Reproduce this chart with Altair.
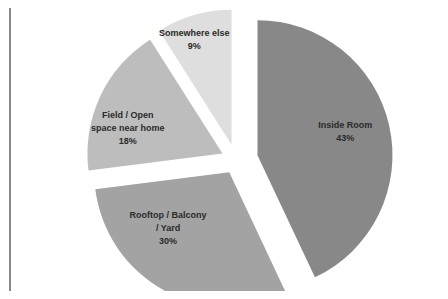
import math
import altair as alt
import pandas as pd

# ---- data ----
categories = ["Inside Room", "Rooftop / Balcony / Yard", "Field / Open space near home", "Somewhere else"]
values = [43, 30, 18, 9]
labels = ["Inside Room\n43%", "Rooftop / Balcony\n/ Yard\n30%", "Field / Open\nspace near home\n18%", "Somewhere else\n9%"]

# ---- style ----
colors = ["#888888", "#a3a3a3", "#bdbdbd", "#dedede"]
explode = {"Inside Room": 22, "Rooftop / Balcony / Yard": 14, "Field / Open space near home": 15, "Somewhere else": 16}
label_r = {"Inside Room": 91, "Rooftop / Balcony / Yard": 83, "Field / Open space near home": 98, "Somewhere else": 112}
label_da = {"Inside Room": -2.7, "Rooftop / Balcony / Yard": 18.7, "Field / Open space near home": -10, "Somewhere else": -3.3}
CX, CY, R = 228, 152, 135
W, H = 432, 283
LH = 13

df = pd.DataFrame({
    "idx": list(range(len(categories))),
    "category": categories,
    "value": values,
    "label": labels,
    "nlines": [len(s.split("\n")) for s in labels],
    "explode": [explode[c] for c in categories],
    "label_r": [label_r[c] for c in categories],
    "label_da": [label_da[c] for c in categories],
})

base = alt.Chart(df).transform_joinaggregate(
    total="sum(value)"
).transform_window(
    cum="sum(value)", sort=[alt.SortField("idx")], frame=[None, 0]
).transform_calculate(
    start_p="(datum.cum - datum.value) / datum.total * 100",
    end_p="datum.cum / datum.total * 100",
    mid="(datum.cum - datum.value / 2) / datum.total * 2 * PI",
).transform_calculate(
    ax=f"{CX} + datum.explode * sin(datum.mid)",
    ay=f"{CY} - datum.explode * cos(datum.mid)",
    la="datum.mid + datum.label_da * PI / 180",
).transform_calculate(
    lx="datum.ax + datum.label_r * sin(datum.la)",
    ly=f"datum.ay - datum.label_r * cos(datum.la) - (datum.nlines - 1) * {LH} / 2",
)

arcs = base.mark_arc(outerRadius=R).encode(
    theta=alt.Theta("start_p:Q", scale=alt.Scale(domain=[0, 100], range=[0, 2 * math.pi])),
    theta2="end_p:Q",
    x=alt.X("ax:Q", scale=None),
    y=alt.Y("ay:Q", scale=None),
    color=alt.Color("category:N", scale=alt.Scale(domain=categories, range=colors), legend=None),
)

text = base.mark_text(
    font="Liberation Sans", fontSize=9, fontWeight="bold", color="#2a2a2a",
    lineBreak="\n", lineHeight=LH, align="center", baseline="middle",
).encode(
    x=alt.X("lx:Q", scale=None),
    y=alt.Y("ly:Q", scale=None),
    text="label:N",
)

edge = alt.Chart(pd.DataFrame({"k": [0]})).mark_rule(color="#888888", strokeWidth=2).encode(
    x=alt.value(2), y=alt.value(0), y2=alt.value(H)
)

chart = alt.layer(edge, arcs, text).properties(
    width=W, height=H, padding=0,
    autosize=alt.AutoSizeParams(type="none"),
).configure_view(stroke=None)

chart.save("out.html", embed_options={"renderer": "svg", "actions": False})
